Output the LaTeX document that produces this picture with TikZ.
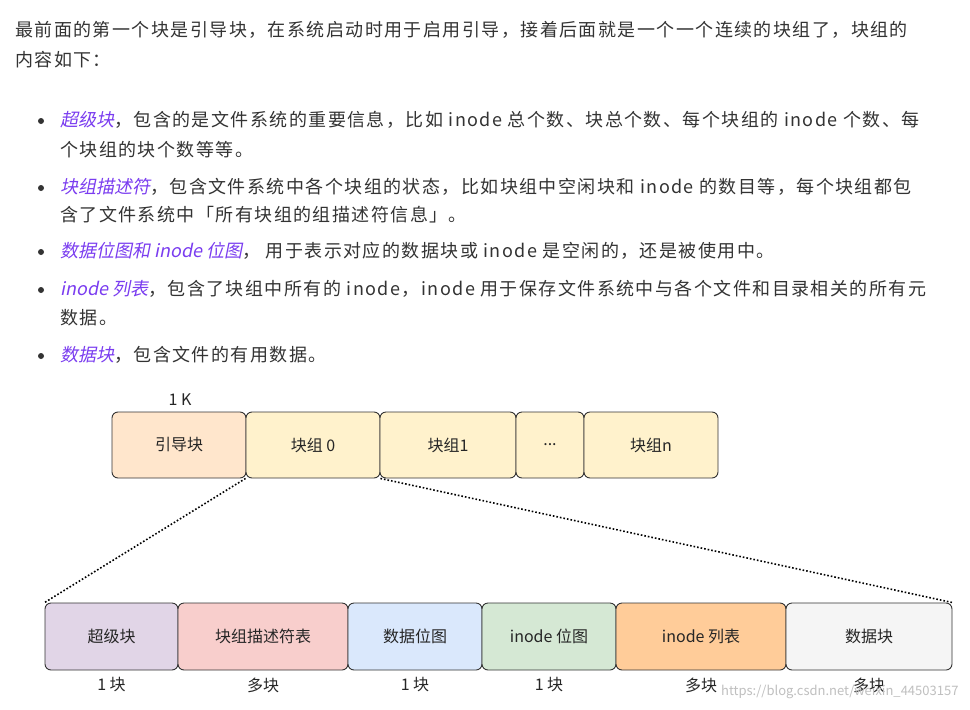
\documentclass[tikz,border=0pt]{standalone}
\usepackage{fontspec}
\setmainfont{Noto Sans CJK SC}
\newfontfamily\cjkit[FakeSlant=0.2]{Noto Sans CJK SC}
\definecolor{pur}{HTML}{7A3CF0}
\definecolor{txt}{HTML}{333333}
\begin{document}
\begin{tikzpicture}[x=1pt,y=-1pt,
  para/.style={anchor=base west,inner sep=0,font=\fontsize{18}{20}\selectfont\addfontfeature{LetterSpace=8},text=txt},
  blk/.style={draw=black!80,line width=0.9pt,rounded corners=6pt,font=\fontsize{16}{18}\selectfont,text=black!85},
  lab/.style={font=\fontsize{16}{18}\selectfont,text=black!85},
  dot/.style={circle,fill=txt,inner sep=0,minimum size=6pt}]
\useasboundingbox[fill=white] (0,0) rectangle (970,710);
\node[para] (p1) at (15,36) {最前面的第一个块是引导块，在系统启动时用于启用引导，接着后面就是一个一个连续的块组了，块组的};
\node[para] (p2) at (15,66) {内容如下：};
\foreach \y/\n in {126/b1,193/b2,257/b3,295/b4,361/b5}{\node[dot] (\n) at (41,\y-5) {};}
\node[para] (l1) at (60,126) {{\cjkit\color{pur}超级块}，包含的是文件系统的重要信息，比如 inode 总个数、块总个数、每个块组的 inode 个数、每};
\node[para] (l1b) at (60,156) {个块组的块个数等等。};
\node[para] (l2) at (60,193) {{\cjkit\color{pur}块组描述符}，包含文件系统中各个块组的状态，比如块组中空闲块和 inode 的数目等，每个块组都包};
\node[para] (l2b) at (60,221) {含了文件系统中「所有块组的组描述符信息」。};
\node[para] (l3) at (60,257) {{\cjkit\color{pur}数据位图和 inode 位图}，\ 用于表示对应的数据块或 inode 是空闲的，还是被使用中。};
\node[para] (l4) at (60,295) {{\cjkit\color{pur}inode 列表}，包含了块组中所有的 inode，inode 用于保存文件系统中与各个文件和目录相关的所有元};
\node[para] (l4b) at (60,324) {数据。};
\node[para] (l5) at (60,361) {{\cjkit\color{pur}数据块}，包含文件的有用数据。};
% top row
\foreach \a/\b/\t/\c/\n in {112/246/引导块/FFE6CC/t1,246/380/块组 0/FFF2CC/t2,380/516/块组1/FFF2CC/t3,516/584/{...}/FFF2CC/t4,584/718/块组n/FFF2CC/t5}{
  \definecolor{fc}{HTML}{\c}
  \node[blk,fill=fc,minimum width=\b-\a,minimum height=66] (\n) at ({(\a+\b)/2},445) {\t};}
\node[lab] (k) at (180,400) {1 K};
% bottom row
\foreach \a/\b/\t/\c/\n/\u in {45/178/超级块/E1D5E7/s1/1 块,178/348/块组描述符表/F8CECC/s2/多块,348/482/数据位图/DAE8FC/s3/1 块,482/616/inode 位图/D5E8D4/s4/1 块,616/786/inode 列表/FFCC99/s5/多块,786/952/数据块/F5F5F5/s6/多块}{
  \definecolor{fc}{HTML}{\c}
  \node[blk,fill=fc,minimum width=\b-\a,minimum height=67] (\n) at ({(\a+\b)/2},636.5) {\t};
  \node[lab] (\n l) at ({(\a+\b)/2},685) {\u};}
\draw[dotted,line width=1.6pt] (t2.south west) -- (s1.north west);
\draw[dotted,line width=1.6pt] (t2.south east) -- (s6.north east);
\node[anchor=east,text=black!25,font=\fontsize{13}{15}\selectfont] (wm) at (962,692) {https://blog.csdn.net/weixin\_44503157};
\end{tikzpicture}
\end{document}
